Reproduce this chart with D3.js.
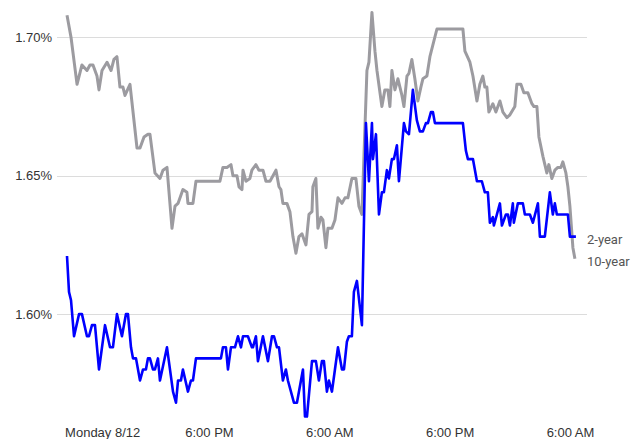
<!DOCTYPE html>
<html>
<head>
<meta charset="utf-8">
<script src="https://cdn.jsdelivr.net/npm/d3@7"></script>
<style>
  body { margin: 0; background: #fff; }
  svg { display: block; }
</style>
</head>
<body>
<div id="chart"></div>
<script>
// x values are hours since Monday 8/12 00:00, y values are yields in percent

var tenYear = [
  [3.79,1.708],[4.19,1.700],[4.79,1.683],[5.28,1.690],[5.78,1.688],[6.08,1.690],[6.38,1.690],
  [6.78,1.686],[6.98,1.681],[7.28,1.688],[7.78,1.691],[8.18,1.688],[8.47,1.692],[8.77,1.693],
  [9.07,1.682],[9.37,1.682],[9.57,1.679],[10.07,1.683],[10.77,1.660],[11.07,1.660],[11.47,1.664],
  [11.86,1.665],[12.06,1.665],[12.56,1.651],[13.06,1.649],[13.36,1.652],[13.76,1.653],[14.26,1.631],
  [14.56,1.639],[14.86,1.640],[15.35,1.645],[15.75,1.644],[15.85,1.640],[16.35,1.640],[16.65,1.648],
  [19.04,1.648],[19.34,1.653],[19.74,1.653],[20.14,1.654],[20.34,1.650],[20.74,1.650],[20.94,1.646],
  [21.24,1.645],[21.34,1.652],[21.63,1.648],[22.03,1.649],[22.23,1.652],[22.63,1.654],[22.93,1.652],
  [23.33,1.652],[23.63,1.648],[24.03,1.648],[24.63,1.652],[24.93,1.646],[25.12,1.645],[25.32,1.640],
  [25.72,1.640],[26.02,1.637],[26.32,1.628],[26.62,1.622],[26.92,1.628],[27.22,1.629],[27.62,1.625],
  [27.92,1.636],[28.22,1.637],[28.31,1.646],[28.61,1.649],[28.81,1.631],[29.11,1.635],[29.31,1.634],
  [29.61,1.624],[29.81,1.631],[30.21,1.631],[30.51,1.634],[30.81,1.642],[31.21,1.640],[31.51,1.642],
  [31.80,1.642],[32.20,1.649],[32.60,1.649],[32.90,1.639],[33.20,1.636],[33.70,1.688],[33.90,1.691],
  [34.20,1.709],[34.50,1.695],[34.70,1.688],[35.19,1.675],[35.49,1.681],[35.79,1.681],[35.99,1.675],
  [36.19,1.688],[36.49,1.681],[36.79,1.685],[37.19,1.679],[37.39,1.675],[37.69,1.686],[37.89,1.687],
  [38.18,1.692],[38.48,1.685],[38.78,1.677],[39.08,1.682],[39.28,1.685],[39.68,1.686],[39.98,1.693],
  [40.68,1.703],[43.27,1.703],[43.47,1.695],[43.97,1.691],[44.27,1.686],[44.67,1.677],[44.96,1.683],
  [45.26,1.686],[45.46,1.682],[45.66,1.682],[45.86,1.673],[46.26,1.676],[46.56,1.673],[46.96,1.677],
  [47.26,1.673],[47.66,1.671],[47.96,1.672],[48.45,1.675],[48.65,1.683],[49.05,1.683],[49.35,1.680],
  [49.75,1.680],[50.15,1.676],[50.35,1.675],[50.65,1.675],[50.85,1.664],[51.25,1.657],[51.64,1.651],
  [51.84,1.654],[52.14,1.649],[52.44,1.652],[52.74,1.653],[53.04,1.653],[53.24,1.655],[53.54,1.651],
  [53.74,1.646],[53.94,1.639],[54.24,1.624],[54.44,1.620]
];

var twoYear = [
  [3.79,1.621],[3.99,1.608],[4.19,1.605],[4.49,1.592],[4.99,1.600],[5.28,1.600],[5.78,1.592],
  [5.98,1.592],[6.28,1.596],[6.58,1.596],[6.98,1.580],[7.58,1.596],[8.08,1.588],[8.37,1.588],
  [8.77,1.600],[9.27,1.592],[9.67,1.600],[9.87,1.600],[10.17,1.588],[10.37,1.584],[10.67,1.584],
  [11.07,1.576],[11.37,1.580],[11.66,1.580],[11.86,1.584],[12.06,1.584],[12.36,1.580],[12.56,1.580],
  [12.86,1.584],[13.06,1.576],[13.76,1.588],[14.36,1.572],[14.66,1.568],[14.86,1.576],[15.15,1.576],
  [15.35,1.580],[15.85,1.572],[16.15,1.576],[16.35,1.576],[16.65,1.584],[19.14,1.584],[19.34,1.588],
  [19.64,1.588],[19.84,1.580],[20.14,1.588],[20.54,1.588],[20.84,1.592],[21.14,1.588],[21.34,1.592],
  [21.83,1.592],[22.23,1.588],[22.33,1.588],[22.63,1.592],[22.83,1.583],[23.33,1.592],[23.83,1.583],
  [24.23,1.592],[24.43,1.592],[24.73,1.588],[24.93,1.588],[25.32,1.576],[25.62,1.580],[25.82,1.576],
  [26.42,1.568],[26.72,1.568],[27.32,1.580],[27.52,1.563],[27.72,1.563],[28.22,1.583],[28.61,1.583],
  [28.91,1.576],[29.21,1.583],[29.41,1.583],[29.71,1.572],[29.91,1.576],[30.21,1.572],[30.51,1.580],
  [30.81,1.588],[31.21,1.580],[31.41,1.580],[31.70,1.590],[31.90,1.592],[32.20,1.592],[32.40,1.608],
  [32.70,1.612],[33.20,1.596],[33.60,1.669],[33.90,1.648],[34.20,1.669],[34.30,1.656],[34.60,1.665],
  [34.90,1.636],[35.19,1.644],[35.39,1.644],[35.69,1.652],[35.89,1.649],[36.19,1.656],[36.39,1.656],
  [36.69,1.661],[36.89,1.648],[37.39,1.669],[37.59,1.666],[37.89,1.665],[38.28,1.681],[38.68,1.670],
  [38.98,1.666],[39.28,1.666],[39.58,1.669],[39.78,1.669],[40.08,1.673],[40.28,1.673],[40.48,1.669],
  [43.27,1.669],[43.57,1.659],[43.77,1.656],[44.27,1.656],[44.67,1.648],[45.16,1.648],[45.46,1.644],
  [45.76,1.644],[45.96,1.633],[46.26,1.635],[46.36,1.632],[46.96,1.640],[47.16,1.632],[47.56,1.636],
  [47.76,1.636],[47.96,1.632],[48.25,1.640],[48.35,1.633],[48.75,1.640],[49.25,1.640],[49.45,1.636],
  [49.95,1.636],[50.25,1.633],[50.75,1.640],[50.95,1.628],[51.44,1.628],[51.94,1.644],[52.24,1.636],
  [52.44,1.640],[52.64,1.636],[53.74,1.636],[53.94,1.628],[54.54,1.628]
];

var seriesNames = ["2-year", "10-year"];
var yTicks = [1.60, 1.65, 1.70];
var xTicks = [3.6, 18, 30, 42, 54];
var xTickLabels = ["Monday 8/12", "6:00 PM", "6:00 AM", "6:00 PM", "6:00 AM"];

var width = 644, height = 439;

var svg = d3.select("#chart").append("svg")
    .attr("width", width)
    .attr("height", height);

var x = d3.scaleLinear()
    .domain([18, 54])
    .range([209.5, 570.5]);

var y = d3.scaleLinear()
    .domain([1.65, 1.70])
    .range([175.7, 37.3]);

var gridLeft = 57, gridRight = 587;

// gridlines
svg.append("g")
  .selectAll("line")
  .data(yTicks)
  .enter().append("line")
    .attr("x1", gridLeft)
    .attr("x2", gridRight)
    .attr("y1", d => Math.round(y(d)) + 0.5)
    .attr("y2", d => Math.round(y(d)) + 0.5)
    .attr("stroke", "#dcdcdc")
    .attr("stroke-width", 1);

// left axis labels
svg.append("g")
  .selectAll("text")
  .data(yTicks)
  .enter().append("text")
    .attr("x", 52)
    .attr("y", d => y(d))
    .attr("dy", "0.35em")
    .attr("text-anchor", "end")
    .attr("font-family", "'Liberation Sans', Arial, sans-serif")
    .attr("font-size", 13)
    .attr("fill", "#333")
    .text(d => d.toFixed(2) + "%");

// bottom axis labels
svg.append("g")
  .selectAll("text")
  .data(xTicks)
  .enter().append("text")
    .attr("x", d => x(d))
    .attr("y", 432)
    .attr("dy", "0.35em")
    .attr("text-anchor", (d, i) => i == 0 ? "start" : "middle")
    .attr("font-family", "'Liberation Sans', Arial, sans-serif")
    .attr("font-size", 13)
    .attr("fill", "#333")
    .text((d, i) => xTickLabels[i]);

var line = d3.line()
    .x(d => x(d[0]))
    .y(d => y(d[1]))
    .curve(d3.curveLinear);

svg.append("path")
    .datum(tenYear)
    .attr("d", line)
    .attr("fill", "none")
    .attr("stroke", "#9c9ba0")
    .attr("stroke-width", 3)
    .attr("stroke-linejoin", "round");

svg.append("path")
    .datum(twoYear)
    .attr("d", line)
    .attr("fill", "none")
    .attr("stroke", "#0000ff")
    .attr("stroke-width", 2.6)
    .attr("stroke-linejoin", "round");

// end labels
var ends = [twoYear[twoYear.length - 1], tenYear[tenYear.length - 1]];
svg.append("g")
  .selectAll("text")
  .data(ends)
  .enter().append("text")
    .attr("x", gridRight)
    .attr("y", d => y(d[1]) + 3)
    .attr("dy", "0.35em")
    .attr("font-family", "Roboto, 'Liberation Sans', sans-serif")
    .attr("font-size", 13)
    .attr("fill", "#555")
    .text((d, i) => seriesNames[i]);
</script>
</body>
</html>
